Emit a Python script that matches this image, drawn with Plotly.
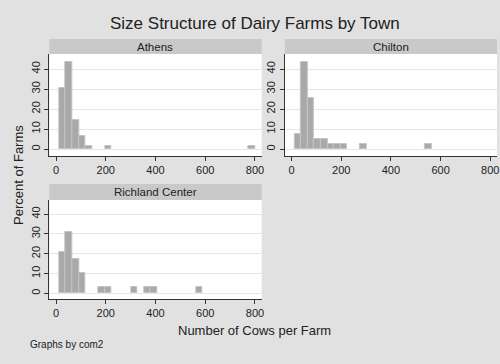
import plotly.graph_objects as go

# ---- data ----
bin_width = 26.23
towns = ["Athens", "Chilton", "Richland Center"]

athens_x = [26.1, 52.4, 78.6, 104.8, 131.1, 209.8, 786.9]
athens_pct = [30.5, 43.5, 14.5, 6.5, 1.6, 1.6, 1.6]

chilton_x = [26.1, 52.4, 78.6, 104.8, 131.1, 157.3, 183.5, 209.8, 288.4, 550.7]
chilton_pct = [7.7, 43.6, 25.6, 5.1, 5.1, 2.6, 2.6, 2.6, 2.6, 2.6]

richland_x = [26.1, 52.4, 78.6, 104.8, 183.5, 209.8, 314.6, 367.1, 393.3, 576.9]
richland_pct = [20.7, 31.0, 17.2, 10.3, 3.4, 3.4, 3.4, 3.4, 3.4, 3.4]

x_ticks = [0, 200, 400, 600, 800]
y_ticks = [0, 10, 20, 30, 40]

FONT = "Liberation Sans, Arial, sans-serif"
W, H = 500, 364

def px(x):
    return x / W

def py(y):
    return 1 - y / H

fig = go.Figure()
series = [(athens_x, athens_pct, "x", "y"),
          (chilton_x, chilton_pct, "x2", "y2"),
          (richland_x, richland_pct, "x3", "y3")]
for xs, ys, xa, ya in series:
    fig.add_trace(go.Bar(
        x=xs, y=ys, width=bin_width, xaxis=xa, yaxis=ya,
        marker=dict(color="#a9a9a9", line=dict(color="#c4c4c4", width=1)),
        showlegend=False, hoverinfo="x+y"))

# panel geometry (pixels)
left_x = (49.5, 262.7)
right_x = (286.0, 499.0)
top_y = (54, 156)
bot_y = (200, 299)

def xaxis(dom):
    return dict(domain=[px(dom[0]), px(dom[1])], range=[-27, 827],
                tickvals=x_ticks, ticks="outside", ticklen=4, tickcolor="#333",
                showline=True, linecolor="#333", linewidth=1, showgrid=False,
                zeroline=False, tickfont=dict(size=11, color="#222", family=FONT))

def yaxis(dom, rng):
    return dict(domain=[py(dom[1]), py(dom[0])], range=rng,
                tickvals=y_ticks, ticks="outside", ticklen=4, tickcolor="#333",
                tickangle=-90, showline=True, linecolor="#333", linewidth=1,
                showgrid=True, gridcolor="#e6e6e6", gridwidth=1, zeroline=False,
                tickfont=dict(size=11, color="#222", family=FONT))

fig.update_layout(
    width=W, height=H, autosize=False,
    margin=dict(l=0, r=0, t=0, b=0),
    paper_bgcolor="#e1e1e1", plot_bgcolor="white",
    bargap=0,
    font=dict(family=FONT, color="#222"),
    xaxis=dict(xaxis(left_x), anchor="y"),
    yaxis=dict(yaxis(top_y, [-3.5, 47.5]), anchor="x"),
    xaxis2=dict(xaxis(right_x), anchor="y2"),
    yaxis2=dict(yaxis(top_y, [-3.5, 47.5]), anchor="x2"),
    xaxis3=dict(xaxis(left_x), anchor="y3"),
    yaxis3=dict(yaxis(bot_y, [-2.9, 47.1]), anchor="x3"),
)

# header strips
headers = [(towns[0], left_x, (39, 54)),
           (towns[1], right_x, (39, 54)),
           (towns[2], left_x, (184, 200))]
shapes = []
annotations = []
for name, xs, ys in headers:
    shapes.append(dict(type="rect", xref="paper", yref="paper",
                       x0=px(xs[0]), x1=px(xs[1]), y0=py(ys[1]), y1=py(ys[0]),
                       fillcolor="#c9c9c9", line=dict(width=0), layer="below"))
    annotations.append(dict(text=name, xref="paper", yref="paper",
                            x=px((xs[0] + xs[1]) / 2), y=py((ys[0] + ys[1]) / 2),
                            showarrow=False, xanchor="center", yanchor="middle",
                            font=dict(size=11.5, color="#222", family=FONT)))

annotations += [
    dict(text="Size Structure of Dairy Farms by Town", xref="paper", yref="paper",
         x=px(256.5), y=py(23), showarrow=False, xanchor="center", yanchor="middle",
         font=dict(size=17, color="#222", family=FONT)),
    dict(text="Number of Cows per Farm", xref="paper", yref="paper",
         x=px(256), y=py(330), showarrow=False, xanchor="center", yanchor="middle",
         font=dict(size=13, color="#222", family=FONT)),
    dict(text="Percent of Farms", xref="paper", yref="paper",
         x=px(18), y=py(175), showarrow=False, xanchor="center", yanchor="middle",
         textangle=-90, font=dict(size=13, color="#222", family=FONT)),
    dict(text="Graphs by com2", xref="paper", yref="paper",
         x=px(28), y=py(344), showarrow=False, xanchor="left", yanchor="middle",
         font=dict(size=10, color="#222", family=FONT)),
]
fig.update_layout(shapes=shapes, annotations=annotations)

fig.write_html("out.html", config={"displayModeBar": False},
               post_script="document.body.style.margin='0';document.body.style.background='#e1e1e1';")
